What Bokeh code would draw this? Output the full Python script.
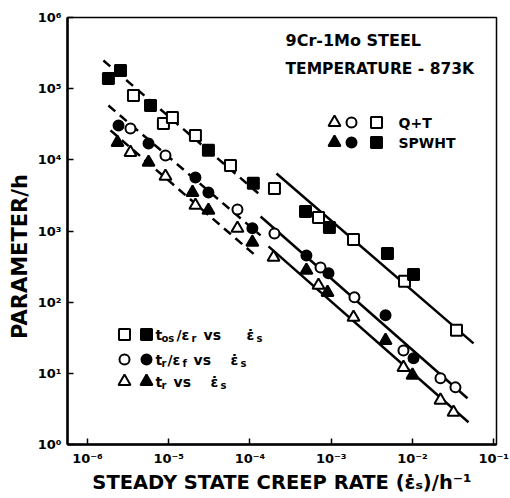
import math
from bokeh.plotting import figure
from bokeh.models import Range1d, FixedTicker, CustomJSTickFormatter, Label
from bokeh.embed import file_html
from bokeh.resources import INLINE

# ---- data: steady state creep rate (1/h) vs parameter (h), 9Cr-1Mo steel, 873 K ----
# t_os / eps_r  (squares)
sq_qt_rate = [3.68e-6, 8.6e-6, 1.11e-5, 2.13e-5, 5.75e-5, 2.0e-4, 6.97e-4, 1.88e-3, 7.98e-3, 3.48e-2]
sq_qt_par = [8.0e4, 3.24e4, 3.94e4, 2.2e4, 8.3e3, 3.96e3, 1.55e3, 762, 196, 40.2]
sq_sp_rate = [1.81e-6, 2.55e-6, 5.96e-6, 3.08e-5, 1.1e-4, 4.82e-4, 9.5e-4, 4.92e-3, 1.03e-2]
sq_sp_par = [1.39e5, 1.80e5, 5.8e4, 1.36e4, 4.67e3, 1.88e3, 1.12e3, 484, 245]

# t_r / eps_f  (circles)
ci_qt_rate = [3.38e-6, 9.12e-6, 7.01e-5, 2.0e-4, 7.38e-4, 1.93e-3, 7.74e-3, 2.21e-2, 3.38e-2]
ci_qt_par = [2.76e4, 1.15e4, 2.01e3, 925, 308, 117, 21, 8.5, 6.35]
ci_sp_rate = [2.41e-6, 5.64e-6, 2.13e-5, 3.08e-5, 1.07e-4, 4.95e-4, 9.25e-4, 4.66e-3, 1.03e-2]
ci_sp_par = [3.04e4, 1.7e4, 5.66e3, 3.48e3, 1.09e3, 454, 254, 65.3, 16.3]

# t_r  (triangles)
tr_qt_rate = [3.38e-6, 9.12e-6, 2.13e-5, 7.01e-5, 1.95e-4, 6.97e-4, 1.88e-3, 7.74e-3, 2.21e-2, 3.2e-2]
tr_qt_par = [1.27e4, 5.85e3, 2.29e3, 1.09e3, 426, 172, 61.2, 12.1, 4.18, 2.83]
tr_sp_rate = [2.34e-6, 5.64e-6, 1.96e-5, 3.08e-5, 1.07e-4, 4.95e-4, 9.0e-4, 4.66e-3, 1.0e-2]
tr_sp_par = [1.75e4, 9.2e3, 3.48e3, 1.95e3, 692, 280, 137, 29, 9.4]

# fitted lines: (rate endpoints, parameter endpoints)
sq_fit_low_rate, sq_fit_low_par = [1.57e-6, 1.27e-4], [2.49e5, 3.37e3]
sq_fit_high_rate, sq_fit_high_par = [2.12e-4, 5.64e-2], [6.44e3, 26.4]
ci_fit_low_rate, ci_fit_low_par = [1.81e-6, 1.35e-4], [5.8e4, 867]
ci_fit_high_rate, ci_fit_high_par = [1.35e-4, 4.75e-2], [1.6e3, 4.46]
tr_fit_low_rate, tr_fit_low_par = [1.92e-6, 1.24e-4], [2.59e4, 426]
tr_fit_high_rate, tr_fit_high_par = [1.69e-4, 4.89e-2], [608, 2.05]

x_ticks = [1e-6, 1e-5, 1e-4, 1e-3, 1e-2, 1e-1]
y_ticks = [1e0, 1e1, 1e2, 1e3, 1e4, 1e5, 1e6]

# ---- layout ----
W, H = 510, 498
FL, FT, FR, FB = 67, 17, 14, 54
FW, FH = W - FL - FR, H - FT - FB
LX0, LX1 = -6.246, -0.966
LY0, LY1 = 0.0, 6.0

FONT = "DejaVu Sans"


def px2x(px):
    return 10 ** (LX0 + (px - FL) / FW * (LX1 - LX0))


def px2y(py):
    return 10 ** (LY1 - (py - FT) / FH * (LY1 - LY0))


p = figure(width=W, height=H, x_axis_type="log", y_axis_type="log",
           x_range=Range1d(10 ** LX0, 10 ** LX1), y_range=Range1d(10 ** LY0, 10 ** LY1),
           output_backend="svg", toolbar_location=None,
           min_border_left=FL, min_border_right=FR, min_border_top=FT, min_border_bottom=FB)
p.background_fill_color = "white"
p.border_fill_color = "white"
p.outline_line_color = "black"
p.outline_line_width = 1.5
p.xgrid.visible = False
p.ygrid.visible = False

sup_js = """
const sup = {'-': '\\u207b', '0': '\\u2070', '1': '\\u00b9', '2': '\\u00b2', '3': '\\u00b3',
             '4': '\\u2074', '5': '\\u2075', '6': '\\u2076', '7': '\\u2077', '8': '\\u2078', '9': '\\u2079'};
const e = Math.round(Math.log10(tick));
return '10' + String(e).split('').map(c => sup[c]).join('');
"""
for ax, ticks in ((p.xaxis[0], x_ticks), (p.yaxis[0], y_ticks)):
    ax.ticker = FixedTicker(ticks=ticks, minor_ticks=[])
    ax.formatter = CustomJSTickFormatter(code=sup_js)
    ax.axis_line_width = 2.5
    ax.axis_line_color = "black"
    ax.major_tick_in = 6
    ax.major_tick_out = 0
    ax.major_tick_line_width = 1.5
    ax.minor_tick_in = 0
    ax.minor_tick_out = 0
    ax.major_label_text_font = FONT
    ax.major_label_text_font_style = "bold"
    ax.major_label_text_font_size = "13px"
    ax.major_label_text_color = "black"
    ax.major_label_standoff = 6
    ax.axis_label_text_font = FONT
    ax.axis_label_text_font_style = "bold"
    ax.axis_label_text_color = "black"

p.xaxis.axis_label = "STEADY STATE CREEP RATE (\u03b5\u0307\u209b)/h\u207b\u00b9"
p.xaxis.axis_label_text_font_size = "19.5px"
p.xaxis.axis_label_standoff = 2
# trailing no-break spaces push the vertical title down along the axis
p.yaxis.axis_label = "PARAMETER/h" + "\u00a0" * 7
p.yaxis.axis_label_text_font_size = "21px"
p.yaxis.axis_label_standoff = 3

# ---- fitted lines ----
for xs, ys, dash in ((sq_fit_low_rate, sq_fit_low_par, "9 6"),
                     (ci_fit_low_rate, ci_fit_low_par, "9 6"),
                     (tr_fit_low_rate, tr_fit_low_par, "9 6"),
                     (sq_fit_high_rate, sq_fit_high_par, "solid"),
                     (ci_fit_high_rate, ci_fit_high_par, "solid"),
                     (tr_fit_high_rate, tr_fit_high_par, "solid")):
    p.line(xs, ys, line_color="black", line_width=2.5, line_dash=dash)

# ---- data points ----
MARK = {"square": 11, "circle": 10, "triangle": 12}


def pts(xs, ys, marker, filled):
    p.scatter(xs, ys, marker=marker, size=MARK[marker],
              fill_color="black" if filled else "white",
              line_color="black", line_width=2)


pts(sq_qt_rate, sq_qt_par, "square", False)
pts(sq_sp_rate, sq_sp_par, "square", True)
pts(ci_qt_rate, ci_qt_par, "circle", False)
pts(ci_sp_rate, ci_sp_par, "circle", True)
pts(tr_qt_rate, tr_qt_par, "triangle", False)
pts(tr_sp_rate, tr_sp_par, "triangle", True)


# ---- annotations ----
def label(px, py, text, size, align="left", angle=0.0):
    p.add_layout(Label(x=px2x(px), y=px2y(py), text=text, text_font=FONT,
                       text_font_style="bold", text_font_size=f"{size}px",
                       text_color="black", text_align=align, text_baseline="middle",
                       angle=angle))


def key_marker(px, py, marker, filled):
    p.scatter([px2x(px)], [px2y(py)], marker=marker, size=MARK[marker],
              fill_color="black" if filled else "white", line_color="black", line_width=2)


label(285, 40, "9Cr-1Mo STEEL", 16)
label(285, 68, "TEMPERATURE - 873K", 15.5)

for cx, m in ((334, "triangle"), (351, "circle"), (376, "square")):
    key_marker(cx, 122, m, False)
    key_marker(cx, 142, m, True)
label(398, 122, "Q+T", 14)
label(398, 142, "SPWHT", 14)

# lower-left key: (left px, text, is_subscript)
rows = [
    (334, "square", [(155, "t", 0), (161, "os", 1), (176, "/\u03b5", 0), (191, "r", 1),
                     (203, "vs", 0), (246, "\u03b5\u0307", 0), (256, "s", 1)]),
    (359, "circle", [(155, "t", 0), (161, "r", 1), (167, "/\u03b5", 0), (182, "f", 1),
                     (193, "vs", 0), (230, "\u03b5\u0307", 0), (240, "s", 1)]),
    (381, "triangle", [(155, "t", 0), (161, "r", 1), (173, "vs", 0),
                       (210, "\u03b5\u0307", 0), (220, "s", 1)]),
]
for ry, m, segs in rows:
    key_marker(124, ry, m, False)
    key_marker(146, ry, m, True)
    for lx, txt, sub in segs:
        if sub:
            label(lx, ry + 4, txt, 10)
        else:
            label(lx, ry, txt, 14)

open("out.html", "w", encoding="utf-8").write(file_html(p, INLINE))
